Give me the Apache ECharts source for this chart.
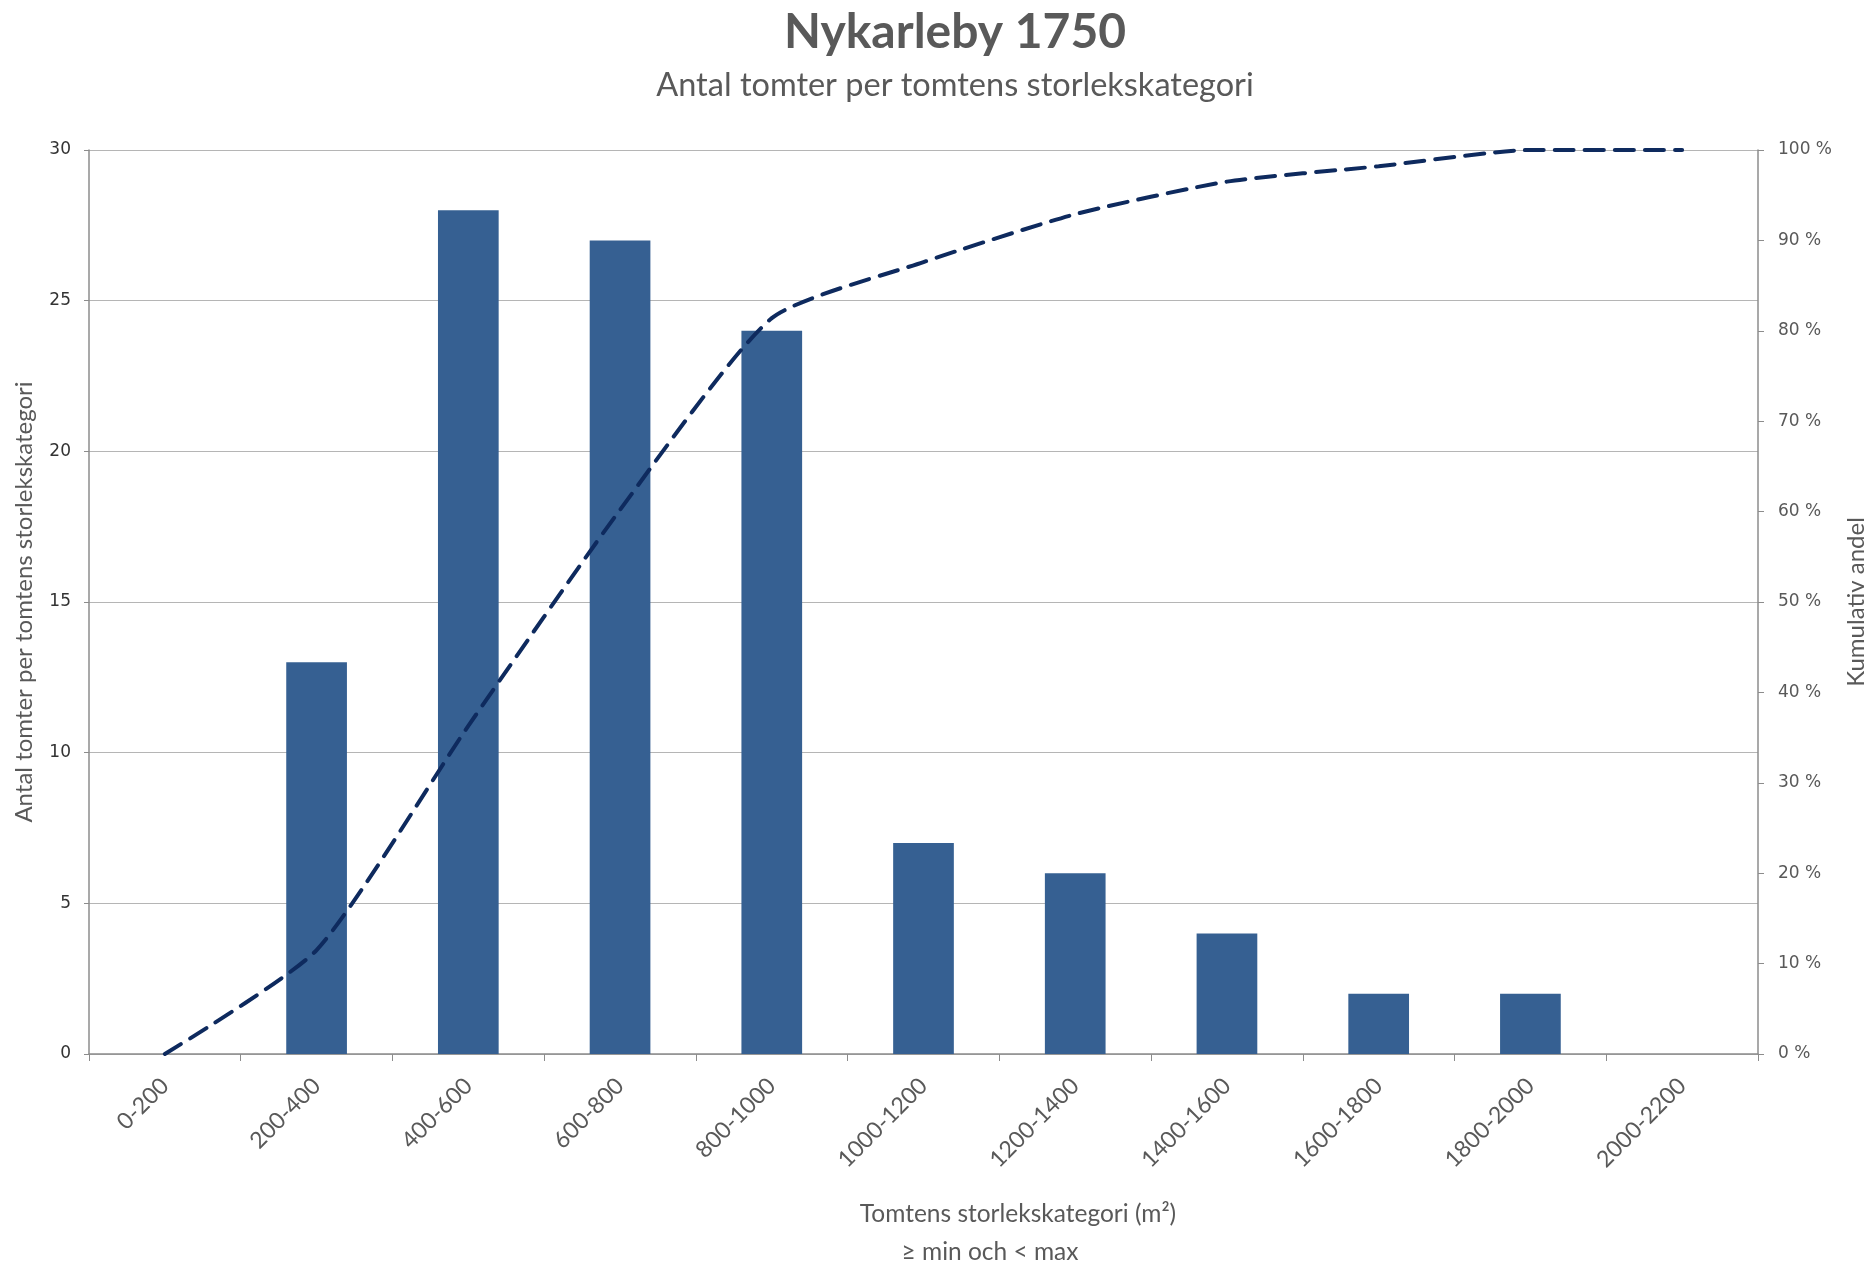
<!DOCTYPE html>
<html>
<head>
<meta charset="utf-8">
<script src="https://cdn.jsdelivr.net/npm/echarts@6/dist/echarts.min.js"></script>
<style>
  html, body { margin: 0; padding: 0; background: #fff; }
  #chart { width: 1869px; height: 1266px; }
</style>
</head>
<body>
<div id="chart"></div>
<script>
  // kategorier och värden
  var categories = ['0-200', '200-400', '400-600', '600-800', '800-1000', '1000-1200',
    '1200-1400', '1400-1600', '1600-1800', '1800-2000', '2000-2200'];
  var antal = [0, 13, 28, 27, 24, 7, 6, 4, 2, 2, 0];
  var kumulativ = [0, 11.5, 36.3, 60.2, 81.4, 87.6, 92.9, 96.5, 98.2, 100, 100];
  var leftTicks = { min: 0, max: 30, interval: 5 };
  var rightTicks = { min: 0, max: 100, interval: 10 };

  var textFont = 'Lato';
  var numFont = 'DejaVu Sans';
  var grey = '#595959';

  var myChart = echarts.init(document.getElementById('chart'));

  myChart.setOption({
    animation: false,
    title: {
      text: 'Nykarleby 1750',
      subtext: 'Antal tomter per tomtens storlekskategori',
      left: 950,
      top: 4,
      textAlign: 'center',
      itemGap: 12,
      textStyle: { fontFamily: textFont, fontWeight: 'bold', fontSize: 48, color: grey },
      subtextStyle: { fontFamily: textFont, fontSize: 32.5, color: grey }
    },
    grid: { left: 89, right: 111, top: 150, bottom: 212, outerBoundsMode: 'none' },
    xAxis: {
      type: 'category',
      data: categories,
      axisLine: { lineStyle: { color: '#8c8c8c', width: 1.5 } },
      axisTick: { show: true, length: 7, lineStyle: { color: '#8c8c8c' } },
      axisLabel: {
        rotate: 45,
        margin: 28,
        fontFamily: textFont,
        fontSize: 23,
        color: grey
      }
    },
    yAxis: [
      {
        type: 'value',
        min: leftTicks.min,
        max: leftTicks.max,
        interval: leftTicks.interval,
        name: 'Antal tomter per tomtens storlekskategori',
        nameLocation: 'middle',
        nameGap: 53,
        nameTextStyle: { fontFamily: textFont, fontSize: 24, color: grey },
        axisLine: { show: true, lineStyle: { color: '#8c8c8c', width: 1.5 } },
        axisTick: { show: true, length: 5, lineStyle: { color: '#8c8c8c' } },
        axisLabel: { fontFamily: numFont, fontSize: 17, color: '#333333', margin: 18 },
        splitLine: { lineStyle: { color: '#b5b5b5', width: 1.2 } }
      },
      {
        type: 'value',
        min: rightTicks.min,
        max: rightTicks.max,
        interval: rightTicks.interval,
        position: 'right',
        name: 'Kumulativ andel',
        nameLocation: 'middle',
        nameGap: 86,
        nameRotate: 90,
        nameTextStyle: { fontFamily: textFont, fontSize: 24, color: grey },
        axisLine: { show: true, lineStyle: { color: '#8c8c8c', width: 1.5 } },
        axisTick: { show: true, length: 6, lineStyle: { color: '#8c8c8c' } },
        axisLabel: { fontFamily: numFont, fontSize: 17, color: grey, margin: 20, formatter: '{value} %' },
        splitLine: { show: false }
      }
    ],
    series: [
      {
        name: 'Antal',
        type: 'bar',
        barWidth: '40%',
        itemStyle: { color: '#366092' },
        data: antal
      },
      {
        name: 'Kumulativ andel',
        type: 'line',
        yAxisIndex: 1,
        smooth: 0.2,
        symbol: 'none',
        lineStyle: { color: '#0e2a5e', width: 4, type: [19, 11], cap: 'round' },
        data: kumulativ
      }
    ],
    graphic: [
      {
        type: 'text',
        x: 1018,
        y: 1214,
        style: {
          text: 'Tomtens storlekskategori (m²)',
          fontFamily: textFont, fontSize: 24.5, fill: grey,
          textAlign: 'center', textVerticalAlign: 'middle'
        }
      },
      {
        type: 'text',
        x: 990,
        y: 1252,
        style: {
          text: '≥ min och < max',
          fontFamily: textFont, fontSize: 24.5, fill: grey,
          textAlign: 'center', textVerticalAlign: 'middle'
        }
      }
    ]
  });
</script>
</body>
</html>
